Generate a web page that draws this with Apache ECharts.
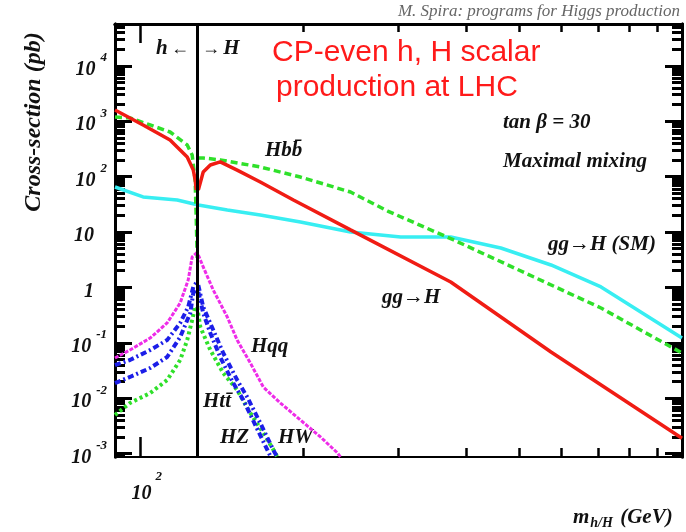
<!DOCTYPE html>
<html>
<head>
<meta charset="utf-8">
<script src="https://cdn.jsdelivr.net/npm/echarts@6/dist/echarts.min.js"></script>
<style>
html, body { margin: 0; padding: 0; background: #fff; }
#chart { width: 686px; height: 532px; }
</style>
</head>
<body>
<div id="chart"></div>
<script>
// cross sections: [m_h/H (GeV), sigma (pb)]
var ggH_light = [[90,1590],[101.4,854],[113.7,458],[122.3,226],[125.5,131],[126.5,87],[127.1,57]];
var ggH_heavy = [[128.2,57],[130.9,121],[134.9,162],[140.7,184],[151.2,131],[166.8,80],[192,37.8],[244.7,10.9],[374.5,1.25],[573.3,0.0683],[1000,0.0019]];
var bbH_light = [[90,1190],[95.9,1143],[104.5,854],[113.7,638],[122.3,372],[124.9,245],[126.5,87],[127.1,16.5],[127.6,3.4]];
var bbH_heavy = [[128,217],[130.9,217],[140.7,200],[166.8,149],[197.8,98],[244.7,52.7],[286.5,23.9],[379.3,7.18],[533.2,1.54],[709,0.425],[1000,0.0655]];
var ggH_SM = [[90,64.9],[101.4,42.9],[117.2,37.8],[128.2,30.7],[145,24.9],[166.8,20.3],[197.8,15.2],[244.7,10],[302.8,8.12],[374.5,8.12],[463.2,5.14],[573.3,2.54],[709,1.02],[1000,0.122]];
var qqH_light = [[90,0.0532],[95.9,0.0742],[104.5,0.122],[112.3,0.228],[118.7,0.523],[122.8,1.36],[124.9,3.54],[127.3,4.18]];
var qqH_heavy = [[128.2,3.85],[130.9,2.34],[136.6,0.897],[145,0.292],[151.2,0.112],[159.9,0.0432],[169,0.0159],[181.7,0.00819],[197.8,0.00404],[215.4,0.002],[231.5,0.00103],[234.5,0.00087]];
var WH_light = [[90,0.0397],[95.9,0.049],[104.5,0.0742],[112.3,0.112],[118.7,0.228],[122.8,0.443],[125.5,1.02],[127,1.2]];
var WH_heavy = [[128.2,1.1],[130.9,0.443],[136.6,0.17],[142.5,0.0655],[151.2,0.0213],[157.8,0.0105],[166.8,0.00357],[176.3,0.00116],[179.3,0.00087]];
var ZH_light = [[90,0.0188],[95.9,0.0242],[104.5,0.0351],[112.3,0.0555],[118.7,0.127],[123.9,0.345],[125.5,0.792],[127,0.9]];
var ZH_heavy = [[128.2,0.83],[130.9,0.345],[134.9,0.15],[140.7,0.0555],[148.7,0.0188],[155.2,0.00929],[164,0.00302],[172.6,0.00107],[174.4,0.00087]];
var ttH_light = [[90,0.00498],[95.9,0.00819],[104.5,0.0124],[112.3,0.0213],[118.7,0.049],[122.3,0.112],[124.9,0.258],[126.5,0.443]];
var ttH_heavy = [[127.6,0.443],[129.3,0.193],[134.9,0.0742],[142.5,0.0285],[151.2,0.0141],[159.9,0.00541],[169,0.00235],[177.8,0.00103],[179.3,0.00087]];

var hMax = 127.6; // h <-> H boundary

// axes
var xMin = 90, xMax = 1000;
var yMin = 0.00087, yMax = 56700;
var xTicks = [100];
var xTickText = [['10', '2']];
var xMinorTicks = [200, 300, 400, 500, 600, 700, 800, 900];
var yTicks = [0.001, 0.01, 0.1, 1, 10, 100, 1000, 10000];
var yTickText = [['10','-3'],['10','-2'],['10','-1'],['1',''],['10',''],['10','2'],['10','3'],['10','4']];
var yMinorTicks = [];
for (var k = -4; k <= 4; k++) {
	for (var d = 2; d <= 9; d++) yMinorTicks.push(+(d * Math.pow(10, k)).toPrecision(3));
}

var serif = '"Liberation Serif", "DejaVu Serif", serif';

function tickIndex(list, v) {
	for (var i = 0; i < list.length; i++) {
		if (Math.abs(Math.log(v / list[i])) < 0.02) return i;
	}
	return -1;
}

function yLabel(v) {
	var i = tickIndex(yTicks, v);
	if (i < 0) return '';
	var t = yTickText[i];
	if (!t[1]) return '{b|' + t[0] + '}{sp| }';
	return '{b|' + t[0] + '}{e|' + t[1] + '}';
}
function xLabel(v) {
	var i = tickIndex(xTicks, v);
	if (i < 0) return '';
	return '{b|' + xTickText[i][0] + '}{e|' + xTickText[i][1] + '}';
}

function yAxisDef(pos, ticks, len, labels) {
	return {
		type: 'log', logBase: 10, position: pos, min: yMin, max: yMax,
		splitLine: { show: false },
		axisLine: { show: true, lineStyle: { color: '#000', width: 3 } },
		axisTick: { show: true, inside: true, length: len, customValues: ticks, lineStyle: { color: '#000', width: 3 } },
		axisLabel: labels ? {
			show: true, customValues: ticks, margin: 8, formatter: yLabel,
			color: '#111', fontFamily: serif, fontStyle: 'italic', fontWeight: 'bold',
			rich: {
				b: { fontSize: 20, lineHeight: 18, padding: [9, 0, 1, 0], fontFamily: serif, fontStyle: 'italic', fontWeight: 'bold', color: '#111' },
				e: { fontSize: 13, lineHeight: 12, padding: [0, 0, 16, 5], fontFamily: serif, fontStyle: 'italic', fontWeight: 'bold', color: '#111' },
				sp: { width: 13, fontSize: 13, lineHeight: 28 }
			}
		} : { show: false }
	};
}

function xAxisDef(pos, ticks, len, labels, lw) {
	return {
		type: 'log', logBase: 10, position: pos, min: xMin, max: xMax,
		splitLine: { show: false },
		axisLine: { show: true, lineStyle: { color: '#000', width: lw } },
		axisTick: { show: true, inside: true, length: len, customValues: ticks, lineStyle: { color: '#000', width: 2.5 } },
		axisLabel: labels ? {
			show: true, customValues: ticks, margin: 21, formatter: xLabel,
			color: '#111',
			rich: {
				b: { fontSize: 20, lineHeight: 18, padding: [14, 0, 0, 14], fontFamily: serif, fontStyle: 'italic', fontWeight: 'bold', color: '#111' },
				e: { fontSize: 13, lineHeight: 12, padding: [0, 0, 20, 4], fontFamily: serif, fontStyle: 'italic', fontWeight: 'bold', color: '#111' }
			}
		} : { show: false }
	};
}

function curve(name, data, color, type, width) {
	return {
		name: name, type: 'line', data: data, xAxisIndex: 0, yAxisIndex: 0,
		symbol: 'none', smooth: false, silent: true, clip: true,
		lineStyle: { color: color, width: width, type: type }
	};
}

var red = '#f01c14', green = '#2fe02a', cyan = '#38eef2', magenta = '#ee2ce8', blue = '#1c1ee8';
var series = [
	curve('ggH_SM', ggH_SM, cyan, 'solid', 3.5),
	curve('bbH_light', bbH_light, green, [7, 4], 3.5),
	curve('bbH_heavy', bbH_heavy, green, [7, 4], 3.5),
	curve('ggH_light', ggH_light, red, 'solid', 3.5),
	curve('ggH_heavy', ggH_heavy, red, 'solid', 3.5),
	curve('qqH_light', qqH_light, magenta, [4, 1.5], 3),
	curve('qqH_heavy', qqH_heavy, magenta, [4, 1.5], 3),
	curve('ttH_light', ttH_light, green, [3, 3], 4),
	curve('ttH_heavy', ttH_heavy, green, [3, 3], 4),
	curve('WH_light', WH_light, blue, [6, 3, 2, 3], 4),
	curve('WH_heavy', WH_heavy, blue, [6, 3, 2, 3], 4),
	curve('ZH_light', ZH_light, blue, [6, 3, 2, 3], 4),
	curve('ZH_heavy', ZH_heavy, blue, [6, 3, 2, 3], 4)
];
series.push({
	type: 'line', data: [], xAxisIndex: 0, yAxisIndex: 0, silent: true,
	markLine: {
		symbol: ['none', 'none'], silent: true, label: { show: false },
		lineStyle: { color: '#000', width: 3, type: 'solid' },
		data: [{ xAxis: hMax }]
	}
});

function note(text, x, y, extra) {
	var st = {
		text: text, fill: '#111', fontFamily: serif, fontStyle: 'italic', fontWeight: 'bold',
		fontSize: 21, align: 'left', verticalAlign: 'middle'
	};
	var el = { type: 'text', x: x, y: y, silent: true, style: st };
	for (var key in extra) {
		if (key === 'rotation') el.rotation = extra[key];
		else st[key] = extra[key];
	}
	return el;
}

var chart = echarts.init(document.getElementById('chart'));
chart.setOption({
	animation: false,
	backgroundColor: '#fff',
	grid: { left: 115, right: 4, top: 24, bottom: 75 },
	xAxis: [
		xAxisDef('bottom', xTicks, 20, true, 2),
		xAxisDef('bottom', xMinorTicks, 9, false, 2),
		xAxisDef('top', xTicks, 19, false, 3),
		xAxisDef('top', xMinorTicks, 8, false, 3)
	],
	yAxis: [
		yAxisDef('left', yTicks, 17, true),
		yAxisDef('left', yMinorTicks, 10, false),
		yAxisDef('right', yTicks, 17, false),
		yAxisDef('right', yMinorTicks, 10, false)
	],
	series: series,
	graphic: [
		note('M. Spira: programs for Higgs production', 680, 12, { align: 'right', fontWeight: 'normal', fontSize: 17, fill: '#666' }),
		note('Cross-section (pb)', 34, 122, { align: 'center', fontSize: 24, rotation: Math.PI / 2 }),
		note('CP-even h, H scalar', 272, 53, { fontFamily: '"Liberation Sans", Arial, sans-serif', fontStyle: 'normal', fontWeight: 'normal', fontSize: 30, fill: '#ff1a1a' }),
		note('production at LHC', 276, 88, { fontFamily: '"Liberation Sans", Arial, sans-serif', fontStyle: 'normal', fontWeight: 'normal', fontSize: 30, fill: '#ff1a1a' }),
		{ type: 'text', x: 156, y: 49, silent: true, style: {
			text: '{t|h} {a|\u2190}', verticalAlign: 'middle',
			rich: {
				t: { fontFamily: serif, fontStyle: 'italic', fontWeight: 'bold', fontSize: 21, fill: '#111' },
				a: { fontFamily: serif, fontWeight: 'bold', fontSize: 18, fill: '#111' }
			} } },
		{ type: 'text', x: 202, y: 49, silent: true, style: {
			text: '{a|\u2192} {t|H}', verticalAlign: 'middle',
			rich: {
				t: { fontFamily: serif, fontStyle: 'italic', fontWeight: 'bold', fontSize: 21, fill: '#111' },
				a: { fontFamily: serif, fontWeight: 'bold', fontSize: 18, fill: '#111' }
			} } },
		note('tan \u03b2 = 30', 503, 123, {}),
		note('Maximal mixing', 503, 162, {}),
		note('Hbb\u0304', 265, 151, {}),
		note('gg\u2192H (SM)', 548, 245, {}),
		note('gg\u2192H', 382, 298, {}),
		note('Hqq', 251, 347, {}),
		note('Htt\u0304', 203, 402, {}),
		note('HZ', 220, 438, {}),
		note('HW', 278, 438, {}),
		{ type: 'text', x: 573, y: 518, silent: true, style: {
			text: '{m|m}{s|h/H}{m| (GeV)}', verticalAlign: 'middle',
			rich: {
				m: { fontFamily: serif, fontStyle: 'italic', fontWeight: 'bold', fontSize: 21, fill: '#111' },
				s: { fontFamily: serif, fontStyle: 'italic', fontWeight: 'bold', fontSize: 14, fill: '#111', padding: [10, 2, 0, 1] }
			} } }
	]
});
</script>
</body>
</html>
